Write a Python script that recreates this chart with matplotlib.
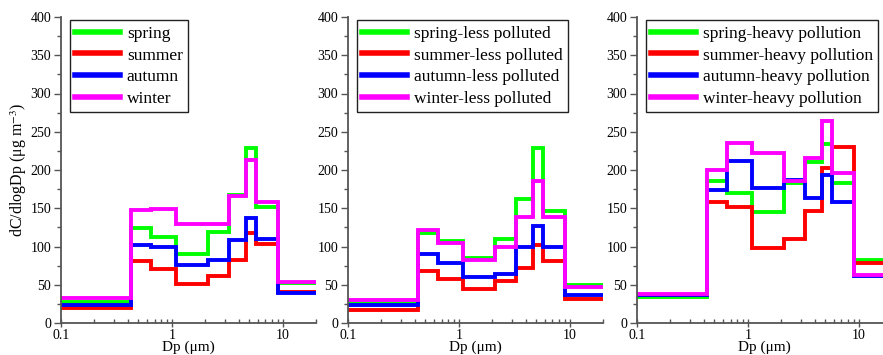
import numpy as np
import matplotlib
matplotlib.use("Agg")
import matplotlib.pyplot as plt
from matplotlib.ticker import MultipleLocator, FixedLocator, FixedFormatter, LogLocator, NullFormatter

# -------  Data ------- #

# Andersen impactor stage edges (um); last edge runs past the axis
edges = [0.1, 0.43, 0.65, 1.1, 2.1, 3.3, 4.7, 5.8, 9.0, 20.0]

seasons = ["spring", "summer", "autumn", "winter"]
colors = ["#00ff00", "#ff0000", "#0000ff", "#ff00ff"]

all_spring = [28, 124, 112, 90, 119, 167, 229, 151, 52]
all_summer = [20, 81, 70, 51, 62, 82, 117, 103, 40]
all_autumn = [24, 102, 99, 76, 82, 108, 137, 110, 39]
all_winter = [33, 148, 149, 130, 129, 166, 213, 158, 53]

less_spring = [27, 117, 107, 85, 110, 162, 229, 146, 50]
less_summer = [17, 68, 57, 44, 55, 72, 102, 81, 31]
less_autumn = [23, 90, 79, 60, 64, 99, 127, 100, 36]
less_winter = [30, 121, 104, 82, 99, 139, 185, 138, 47]

heavy_spring = [34, 186, 170, 145, 183, 210, 234, 183, 82]
heavy_summer = [36, 158, 151, 98, 110, 146, 203, 230, 78]
heavy_autumn = [37, 174, 212, 177, 187, 164, 194, 158, 61]
heavy_winter = [38, 200, 235, 222, 185, 216, 264, 196, 63]

panels = [
    ([all_spring, all_summer, all_autumn, all_winter], ""),
    ([less_spring, less_summer, less_autumn, less_winter], "-less polluted"),
    ([heavy_spring, heavy_summer, heavy_autumn, heavy_winter], "-heavy pollution"),
]

# -------  Figure ------- #

plt.rcParams['font.family'] = ['Liberation Serif', 'DejaVu Serif']
plt.rcParams['mathtext.fontset'] = 'stix'

fig = plt.figure(figsize=(8.83, 3.55), dpi=100)
W, H = 883, 355
lefts = [61, 348, 637]
ax_w = 255
y0, y1 = 323, 17
spine_col = "#555555"

for k, (series, suffix) in enumerate(panels):
    ax = fig.add_axes([lefts[k] / W, (H - y0) / H, ax_w / W, (y0 - y1) / H])
    for vals, name, col in zip(series, seasons, colors):
        ax.stairs(vals, edges, baseline=None, color=col, lw=2.8,
                  joinstyle='miter', label=name + suffix)

    ax.set_xscale('log')
    ax.set_xlim(0.1, 20)
    ax.set_ylim(0, 400)

    for s in ['top', 'right']:
        ax.spines[s].set_visible(False)
    for s in ['left', 'bottom']:
        ax.spines[s].set_color(spine_col)
        ax.spines[s].set_linewidth(1.3)

    ax.yaxis.set_major_locator(MultipleLocator(50))
    ax.yaxis.set_minor_locator(MultipleLocator(25))
    ax.xaxis.set_major_locator(FixedLocator([0.1, 1, 10]))
    ax.xaxis.set_major_formatter(FixedFormatter(["0.1", "1", "10"]))
    ax.xaxis.set_minor_locator(LogLocator(base=10, subs=np.arange(2, 10)))
    ax.xaxis.set_minor_formatter(NullFormatter())

    ax.tick_params(axis='y', which='major', direction='out', length=5, width=1, color=spine_col,
                   labelsize=10, pad=2)
    ax.tick_params(axis='y', which='minor', direction='out', length=3, width=1, color=spine_col)
    ax.tick_params(axis='x', which='major', direction='inout', length=6, width=1, color=spine_col,
                   labelsize=10, pad=1)
    ax.tick_params(axis='x', which='minor', direction='in', length=3, width=1, color=spine_col)

    ax.set_xlabel("Dp (\u03bcm)", fontsize=11, va='bottom')
    ax.xaxis.set_label_coords(0.5, -(H - 1 - y0) / (y0 - y1))
    if k == 0:
        ax.set_ylabel("dC/dlogDp (\u03bcg m$^{-3}$)", fontsize=11.5, labelpad=1)

    leg = ax.legend(loc='upper left', bbox_to_anchor=(0.02, 1.0), fontsize=12.5, frameon=True,
                    fancybox=False, edgecolor='#222222', framealpha=1, borderpad=0.3,
                    labelspacing=0.32, handlelength=2.6, handletextpad=0.4, borderaxespad=0.2)
    leg.get_frame().set_linewidth(1.0)
    for h in leg.get_lines():
        h.set_linewidth(4)

fig.savefig("out.png", dpi=100)
